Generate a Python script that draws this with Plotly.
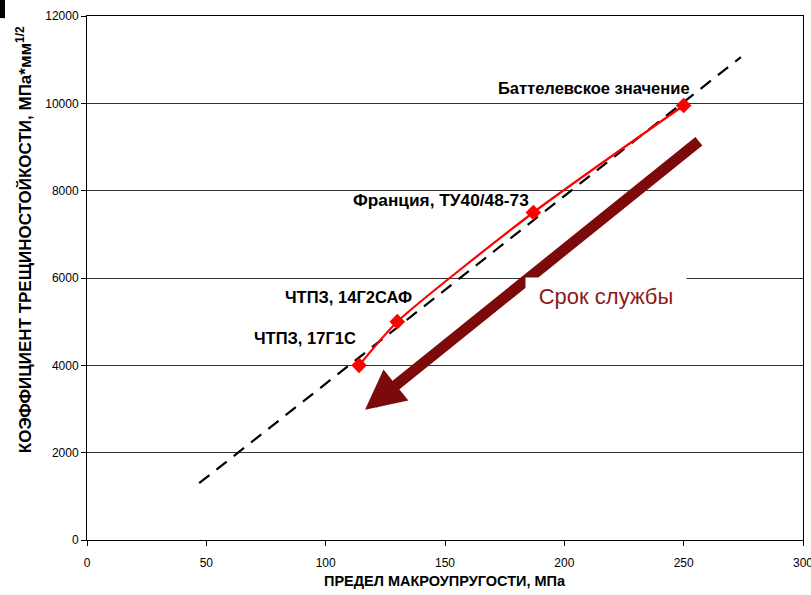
import plotly.graph_objects as go

# Data
steel_x = [114, 130, 187, 250]
steel_y = [4000, 5000, 7500, 9950]
steel_labels = ["ЧТПЗ, 17Г1С", "ЧТПЗ, 14Г2САФ", "Франция, ТУ40/48-73", "Баттелевское значение"]

trend_x = [47, 274]
trend_y = [1300, 11060]

arrow_tail = (257, 9160)
arrow_head = (116.5, 2980)
arrow_label = "Срок службы"

x_ticks = [0, 50, 100, 150, 200, 250, 300]
y_ticks = [0, 2000, 4000, 6000, 8000, 10000, 12000]

FONT = "Liberation Sans, Arial, sans-serif"

fig = go.Figure()

fig.add_trace(go.Scatter(
    x=trend_x, y=trend_y, mode="lines",
    line=dict(color="black", width=2.2, dash="13px,9px"),
    hoverinfo="skip", showlegend=False))

fig.add_trace(go.Scatter(
    x=steel_x, y=steel_y, mode="lines+markers",
    line=dict(color="#ff0000", width=2.2, shape="spline", smoothing=0.6),
    marker=dict(symbol="diamond", size=12, color="#ff0000"),
    showlegend=False))

label_pos = [(91.3, 4627), (109.5, 5566), (148.5, 7787), (212.4, 10353)]
label_size = [16.5, 16.5, 17.3, 16.5]
annotations = []
for (lx, ly), txt, fs in zip(label_pos, steel_labels, label_size):
    annotations.append(dict(x=lx, y=ly, xref="x", yref="y", text=txt, showarrow=False,
                            font=dict(family=FONT, size=fs, color="black", weight="bold")))

# big arrow
annotations.append(dict(x=arrow_head[0], y=arrow_head[1], ax=arrow_tail[0], ay=arrow_tail[1],
                        xref="x", yref="y", axref="x", ayref="y", text="", showarrow=True,
                        arrowhead=2, arrowsize=0.72, arrowwidth=11, arrowcolor="#7d0a0a"))
annotations.append(dict(x=217.3, y=5590, xref="x", yref="y", text=arrow_label, showarrow=False,
                        bgcolor="white", width=158, height=34,
                        font=dict(family=FONT, size=22, color="#8b1a1a")))

# axis titles
annotations.append(dict(x=0.5, y=-0.06, xref="paper", yref="paper", xanchor="center", yanchor="top",
                        text="ПРЕДЕЛ МАКРОУПРУГОСТИ, МПа", showarrow=False,
                        font=dict(family=FONT, size=14.5, color="black", weight="bold")))
annotations.append(dict(x=-0.088, y=0.574, xref="paper", yref="paper", xanchor="center", yanchor="middle",
                        textangle=-90, text="КОЭФФИЦИЕНТ ТРЕЩИНОСТОЙКОСТИ, МПа*мм<sup>1/2</sup>",
                        showarrow=False, font=dict(family=FONT, size=17, color="black", weight="bold")))

fig.update_layout(
    width=811, height=595,
    margin=dict(l=87, r=8, t=16, b=55, autoexpand=False),
    paper_bgcolor="white", plot_bgcolor="white",
    font=dict(family=FONT, size=12, color="black"),
    annotations=annotations,
    shapes=[dict(type="rect", xref="paper", yref="paper", x0=-0.1215, x1=-0.1145, y0=0.996, y1=1.031,
                 fillcolor="black", line=dict(width=0))],
)
fig.update_xaxes(range=[0, 300], tickvals=x_ticks, showgrid=False, zeroline=False,
                 showline=True, linecolor="black", linewidth=1, mirror=True,
                 ticks="outside", ticklen=5, tickcolor="black", ticklabelstandoff=7,
                 ticklabeloverflow="allow", automargin=False,
                 tickfont=dict(family=FONT, size=12, color="black"))
fig.update_yaxes(range=[0, 12000], tickvals=y_ticks, tickformat="d", showgrid=True,
                 gridcolor="#333333", gridwidth=1,
                 zeroline=False, showline=True, linecolor="black", linewidth=1, mirror=True,
                 ticks="outside", ticklen=5, tickcolor="black", ticklabeloverflow="allow",
                 automargin=False,
                 tickfont=dict(family=FONT, size=12, color="black"))

fig.write_html("out.html")
